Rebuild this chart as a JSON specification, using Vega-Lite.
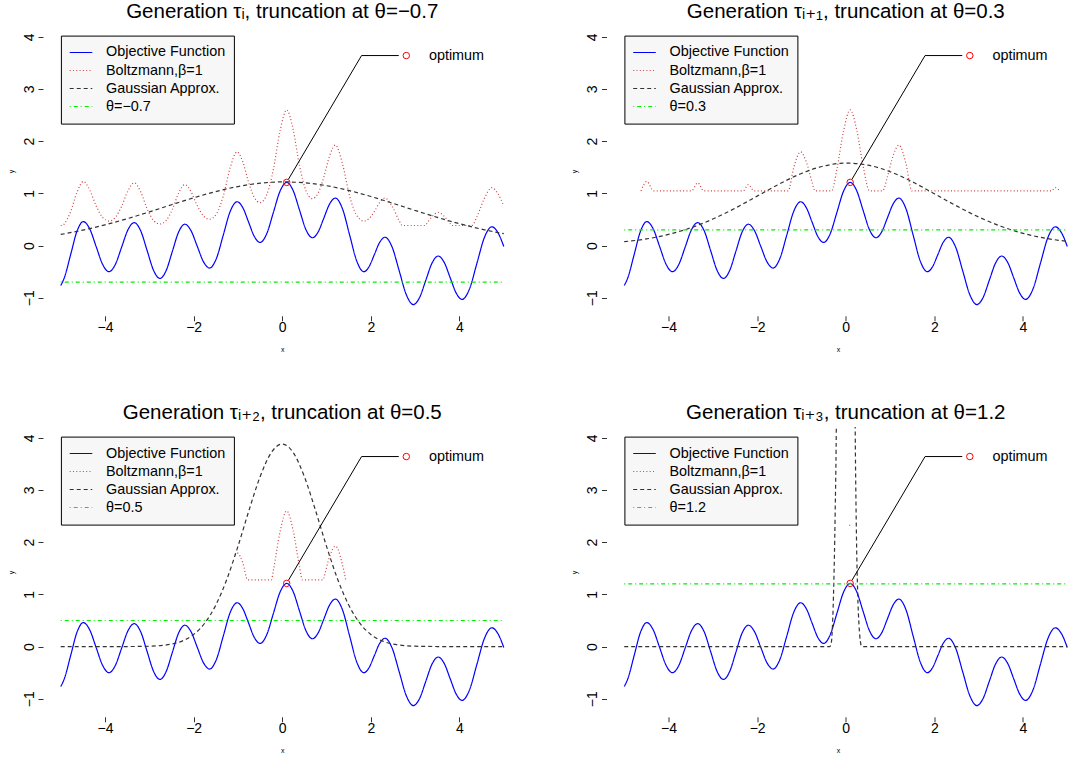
{
"$schema": "https://vega.github.io/schema/vega-lite/v6.json",
"background": "white",
"padding": {"left": 7, "top": 1, "right": 0, "bottom": 0},
"bounds": "flush",
"columns": 2,
"spacing": {"row": 111, "column": 84.5},
"resolve": {"scale": {"color": "shared", "strokeDash": "shared"}, "legend": {"color": "independent"}},
"config": {
  "font": "Liberation Sans",
  "view": {"stroke": null},
  "axis": {"grid": false, "domain": false, "ticks": true, "tickColor": "#333333", "tickWidth": 1, "tickSize": 5, "labelFont": "Liberation Sans", "labelFontSize": 14, "labelColor": "#000000", "titleFont": "Liberation Sans", "titleFontSize": 7, "titleFontWeight": "normal", "titleColor": "#000000", "labelFlush": false, "labelOverlap": false},
  "axisX": {"labelBaseline": "alphabetic", "labelPadding": 10.7, "titlePadding": 11},
  "axisY": {"labelAngle": 270, "labelAlign": "center", "labelBaseline": "alphabetic", "labelPadding": 5, "titlePadding": 8},
  "title": {"font": "Liberation Sans, DejaVu Sans, sans-serif", "fontSize": 20.5, "fontWeight": "normal", "color": "#000000", "anchor": "middle", "frame": "group", "baseline": "alphabetic", "offset": 4},
  "legend": {"padding": 8.1, "fillColor": "#F7F7F7", "strokeColor": "#000000", "symbolType": "stroke", "symbolSize": 511, "symbolStrokeWidth": 1.2, "symbolOpacity": 1, "labelFont": "Liberation Sans", "labelFontSize": 14.4, "labelColor": "#000000", "labelOffset": 13, "rowPadding": 0, "clipHeight": 17.6, "labelLimit": 400}
},
"datasets": {
  "leader": [{"x": 0.14, "y": 1.27}, {"x": 1.79, "y": 3.64}, {"x": 2.63, "y": 3.64}],
  "circles": [{"x": 0.1, "y": 1.21}, {"x": 2.8, "y": 3.64}],
  "label": [{"x": 3.31, "y": 3.64, "t": "optimum"}],
  "curves": [
    {"p":0,"s":"Objective Function","x":-5.0,"y":-0.766},{"p":0,"s":"Objective Function","x":-4.918,"y":-0.615},{"p":0,"s":"Objective Function","x":-4.775,"y":-0.17},{"p":0,"s":"Objective Function","x":-4.633,"y":0.275},{"p":0,"s":"Objective Function","x":-4.49,"y":0.46},{"p":0,"s":"Objective Function","x":-4.345,"y":0.319},{"p":0,"s":"Objective Function","x":-4.2,"y":-0.02},{"p":0,"s":"Objective Function","x":-4.055,"y":-0.359},{"p":0,"s":"Objective Function","x":-3.91,"y":-0.5},{"p":0,"s":"Objective Function","x":-3.768,"y":-0.362},{"p":0,"s":"Objective Function","x":-3.625,"y":-0.03},{"p":0,"s":"Objective Function","x":-3.483,"y":0.302},{"p":0,"s":"Objective Function","x":-3.34,"y":0.44},{"p":0,"s":"Objective Function","x":-3.195,"y":0.283},{"p":0,"s":"Objective Function","x":-3.05,"y":-0.095},{"p":0,"s":"Objective Function","x":-2.905,"y":-0.473},{"p":0,"s":"Objective Function","x":-2.76,"y":-0.63},{"p":0,"s":"Objective Function","x":-2.62,"y":-0.478},{"p":0,"s":"Objective Function","x":-2.48,"y":-0.11},{"p":0,"s":"Objective Function","x":-2.34,"y":0.258},{"p":0,"s":"Objective Function","x":-2.2,"y":0.41},{"p":0,"s":"Objective Function","x":-2.06,"y":0.287},{"p":0,"s":"Objective Function","x":-1.92,"y":-0.01},{"p":0,"s":"Objective Function","x":-1.78,"y":-0.307},{"p":0,"s":"Objective Function","x":-1.64,"y":-0.43},{"p":0,"s":"Objective Function","x":-1.485,"y":-0.244},{"p":0,"s":"Objective Function","x":-1.33,"y":0.205},{"p":0,"s":"Objective Function","x":-1.175,"y":0.654},{"p":0,"s":"Objective Function","x":-1.02,"y":0.84},{"p":0,"s":"Objective Function","x":-0.89,"y":0.726},{"p":0,"s":"Objective Function","x":-0.76,"y":0.45},{"p":0,"s":"Objective Function","x":-0.63,"y":0.174},{"p":0,"s":"Objective Function","x":-0.5,"y":0.06},{"p":0,"s":"Objective Function","x":-0.35,"y":0.228},{"p":0,"s":"Objective Function","x":-0.2,"y":0.635},{"p":0,"s":"Objective Function","x":-0.05,"y":1.042},{"p":0,"s":"Objective Function","x":0.1,"y":1.21},{"p":0,"s":"Objective Function","x":0.245,"y":1.055},{"p":0,"s":"Objective Function","x":0.39,"y":0.68},{"p":0,"s":"Objective Function","x":0.535,"y":0.305},{"p":0,"s":"Objective Function","x":0.68,"y":0.15},{"p":0,"s":"Objective Function","x":0.81,"y":0.261},{"p":0,"s":"Objective Function","x":0.94,"y":0.53},{"p":0,"s":"Objective Function","x":1.07,"y":0.799},{"p":0,"s":"Objective Function","x":1.2,"y":0.91},{"p":0,"s":"Objective Function","x":1.36,"y":0.703},{"p":0,"s":"Objective Function","x":1.52,"y":0.205},{"p":0,"s":"Objective Function","x":1.68,"y":-0.293},{"p":0,"s":"Objective Function","x":1.84,"y":-0.5},{"p":0,"s":"Objective Function","x":1.96,"y":-0.403},{"p":0,"s":"Objective Function","x":2.08,"y":-0.17},{"p":0,"s":"Objective Function","x":2.2,"y":0.063},{"p":0,"s":"Objective Function","x":2.32,"y":0.16},{"p":0,"s":"Objective Function","x":2.48,"y":-0.029},{"p":0,"s":"Objective Function","x":2.64,"y":-0.485},{"p":0,"s":"Objective Function","x":2.8,"y":-0.941},{"p":0,"s":"Objective Function","x":2.96,"y":-1.13},{"p":0,"s":"Objective Function","x":3.1,"y":-0.994},{"p":0,"s":"Objective Function","x":3.24,"y":-0.665},{"p":0,"s":"Objective Function","x":3.38,"y":-0.336},{"p":0,"s":"Objective Function","x":3.52,"y":-0.2},{"p":0,"s":"Objective Function","x":3.655,"y":-0.322},{"p":0,"s":"Objective Function","x":3.79,"y":-0.615},{"p":0,"s":"Objective Function","x":3.925,"y":-0.908},{"p":0,"s":"Objective Function","x":4.06,"y":-1.03},{"p":0,"s":"Objective Function","x":4.228,"y":-0.826},{"p":0,"s":"Objective Function","x":4.395,"y":-0.335},{"p":0,"s":"Objective Function","x":4.563,"y":0.156},{"p":0,"s":"Objective Function","x":4.73,"y":0.36},{"p":0,"s":"Objective Function","x":4.873,"y":0.24},{"p":0,"s":"Objective Function","x":5.0,"y":-0.017},

    {"p":1,"s":"Boltzmann,β=1","x":-5.0,"y":0.385},{"p":1,"s":"Boltzmann,β=1","x":-4.956,"y":0.385},{"p":1,"s":"Boltzmann,β=1","x":-4.918,"y":0.419},{"p":1,"s":"Boltzmann,β=1","x":-4.775,"y":0.654},{"p":1,"s":"Boltzmann,β=1","x":-4.633,"y":1.02},{"p":1,"s":"Boltzmann,β=1","x":-4.49,"y":1.228},{"p":1,"s":"Boltzmann,β=1","x":-4.345,"y":1.066},{"p":1,"s":"Boltzmann,β=1","x":-4.2,"y":0.76},{"p":1,"s":"Boltzmann,β=1","x":-4.055,"y":0.541},{"p":1,"s":"Boltzmann,β=1","x":-3.91,"y":0.47},{"p":1,"s":"Boltzmann,β=1","x":-3.768,"y":0.54},{"p":1,"s":"Boltzmann,β=1","x":-3.625,"y":0.752},{"p":1,"s":"Boltzmann,β=1","x":-3.483,"y":1.048},{"p":1,"s":"Boltzmann,β=1","x":-3.34,"y":1.203},{"p":1,"s":"Boltzmann,β=1","x":-3.195,"y":1.029},{"p":1,"s":"Boltzmann,β=1","x":-3.05,"y":0.705},{"p":1,"s":"Boltzmann,β=1","x":-2.905,"y":0.483},{"p":1,"s":"Boltzmann,β=1","x":-2.76,"y":0.413},{"p":1,"s":"Boltzmann,β=1","x":-2.62,"y":0.481},{"p":1,"s":"Boltzmann,β=1","x":-2.48,"y":0.694},{"p":1,"s":"Boltzmann,β=1","x":-2.34,"y":1.003},{"p":1,"s":"Boltzmann,β=1","x":-2.2,"y":1.168},{"p":1,"s":"Boltzmann,β=1","x":-2.06,"y":1.033},{"p":1,"s":"Boltzmann,β=1","x":-1.92,"y":0.767},{"p":1,"s":"Boltzmann,β=1","x":-1.78,"y":0.57},{"p":1,"s":"Boltzmann,β=1","x":-1.64,"y":0.504},{"p":1,"s":"Boltzmann,β=1","x":-1.485,"y":0.607},{"p":1,"s":"Boltzmann,β=1","x":-1.33,"y":0.951},{"p":1,"s":"Boltzmann,β=1","x":-1.175,"y":1.491},{"p":1,"s":"Boltzmann,β=1","x":-1.02,"y":1.795},{"p":1,"s":"Boltzmann,β=1","x":-0.89,"y":1.602},{"p":1,"s":"Boltzmann,β=1","x":-0.76,"y":1.215},{"p":1,"s":"Boltzmann,β=1","x":-0.63,"y":0.922},{"p":1,"s":"Boltzmann,β=1","x":-0.5,"y":0.823},{"p":1,"s":"Boltzmann,β=1","x":-0.35,"y":0.973},{"p":1,"s":"Boltzmann,β=1","x":-0.2,"y":1.463},{"p":1,"s":"Boltzmann,β=1","x":-0.05,"y":2.197},{"p":1,"s":"Boltzmann,β=1","x":0.1,"y":2.599},{"p":1,"s":"Boltzmann,β=1","x":0.245,"y":2.226},{"p":1,"s":"Boltzmann,β=1","x":0.39,"y":1.53},{"p":1,"s":"Boltzmann,β=1","x":0.535,"y":1.051},{"p":1,"s":"Boltzmann,β=1","x":0.68,"y":0.9},{"p":1,"s":"Boltzmann,β=1","x":0.81,"y":1.006},{"p":1,"s":"Boltzmann,β=1","x":0.94,"y":1.317},{"p":1,"s":"Boltzmann,β=1","x":1.07,"y":1.723},{"p":1,"s":"Boltzmann,β=1","x":1.2,"y":1.925},{"p":1,"s":"Boltzmann,β=1","x":1.36,"y":1.565},{"p":1,"s":"Boltzmann,β=1","x":1.52,"y":0.951},{"p":1,"s":"Boltzmann,β=1","x":1.68,"y":0.578},{"p":1,"s":"Boltzmann,β=1","x":1.84,"y":0.47},{"p":1,"s":"Boltzmann,β=1","x":1.96,"y":0.518},{"p":1,"s":"Boltzmann,β=1","x":2.08,"y":0.654},{"p":1,"s":"Boltzmann,β=1","x":2.2,"y":0.825},{"p":1,"s":"Boltzmann,β=1","x":2.32,"y":0.909},{"p":1,"s":"Boltzmann,β=1","x":2.48,"y":0.753},{"p":1,"s":"Boltzmann,β=1","x":2.64,"y":0.477},{"p":1,"s":"Boltzmann,β=1","x":2.709,"y":0.385},{"p":1,"s":"Boltzmann,β=1","x":3.226,"y":0.385},{"p":1,"s":"Boltzmann,β=1","x":3.24,"y":0.399},{"p":1,"s":"Boltzmann,β=1","x":3.38,"y":0.554},{"p":1,"s":"Boltzmann,β=1","x":3.52,"y":0.635},{"p":1,"s":"Boltzmann,β=1","x":3.655,"y":0.562},{"p":1,"s":"Boltzmann,β=1","x":3.79,"y":0.419},{"p":1,"s":"Boltzmann,β=1","x":3.826,"y":0.385},{"p":1,"s":"Boltzmann,β=1","x":4.277,"y":0.385},{"p":1,"s":"Boltzmann,β=1","x":4.395,"y":0.554},{"p":1,"s":"Boltzmann,β=1","x":4.563,"y":0.906},{"p":1,"s":"Boltzmann,β=1","x":4.73,"y":1.111},{"p":1,"s":"Boltzmann,β=1","x":4.873,"y":0.985},{"p":1,"s":"Boltzmann,β=1","x":5.0,"y":0.762},

    {"p":1,"s":"Gaussian Approx.","x":-5,"y":0.213},{"p":1,"s":"Gaussian Approx.","x":-4.5,"y":0.296},{"p":1,"s":"Gaussian Approx.","x":-4,"y":0.397},{"p":1,"s":"Gaussian Approx.","x":-3.5,"y":0.515},{"p":1,"s":"Gaussian Approx.","x":-3,"y":0.645},{"p":1,"s":"Gaussian Approx.","x":-2.5,"y":0.782},{"p":1,"s":"Gaussian Approx.","x":-2,"y":0.915},{"p":1,"s":"Gaussian Approx.","x":-1.5,"y":1.035},{"p":1,"s":"Gaussian Approx.","x":-1,"y":1.131},{"p":1,"s":"Gaussian Approx.","x":-0.5,"y":1.195},{"p":1,"s":"Gaussian Approx.","x":0,"y":1.22},{"p":1,"s":"Gaussian Approx.","x":0.5,"y":1.203},{"p":1,"s":"Gaussian Approx.","x":1,"y":1.147},{"p":1,"s":"Gaussian Approx.","x":1.5,"y":1.056},{"p":1,"s":"Gaussian Approx.","x":2,"y":0.94},{"p":1,"s":"Gaussian Approx.","x":2.5,"y":0.809},{"p":1,"s":"Gaussian Approx.","x":3,"y":0.672},{"p":1,"s":"Gaussian Approx.","x":3.5,"y":0.54},{"p":1,"s":"Gaussian Approx.","x":4,"y":0.419},{"p":1,"s":"Gaussian Approx.","x":4.5,"y":0.314},{"p":1,"s":"Gaussian Approx.","x":5,"y":0.228},
    {"p":1,"s":"θ","x":-5,"y":-0.7},{"p":1,"s":"θ","x":5,"y":-0.7},

    {"p":2,"s":"Boltzmann,β=1","x":-4.622,"y":1.046},{"p":2,"s":"Boltzmann,β=1","x":-4.49,"y":1.228},{"p":2,"s":"Boltzmann,β=1","x":-4.335,"y":1.046},{"p":2,"s":"Boltzmann,β=1","x":-3.484,"y":1.046},{"p":2,"s":"Boltzmann,β=1","x":-3.34,"y":1.203},{"p":2,"s":"Boltzmann,β=1","x":-3.203,"y":1.046},{"p":2,"s":"Boltzmann,β=1","x":-2.318,"y":1.046},{"p":2,"s":"Boltzmann,β=1","x":-2.2,"y":1.168},{"p":2,"s":"Boltzmann,β=1","x":-2.068,"y":1.046},{"p":2,"s":"Boltzmann,β=1","x":-1.3,"y":1.046},{"p":2,"s":"Boltzmann,β=1","x":-1.175,"y":1.491},{"p":2,"s":"Boltzmann,β=1","x":-1.02,"y":1.795},{"p":2,"s":"Boltzmann,β=1","x":-0.89,"y":1.602},{"p":2,"s":"Boltzmann,β=1","x":-0.76,"y":1.215},{"p":2,"s":"Boltzmann,β=1","x":-0.694,"y":1.046},{"p":2,"s":"Boltzmann,β=1","x":-0.319,"y":1.046},{"p":2,"s":"Boltzmann,β=1","x":-0.2,"y":1.463},{"p":2,"s":"Boltzmann,β=1","x":-0.05,"y":2.197},{"p":2,"s":"Boltzmann,β=1","x":0.1,"y":2.599},{"p":2,"s":"Boltzmann,β=1","x":0.245,"y":2.226},{"p":2,"s":"Boltzmann,β=1","x":0.39,"y":1.53},{"p":2,"s":"Boltzmann,β=1","x":0.538,"y":1.046},{"p":2,"s":"Boltzmann,β=1","x":0.832,"y":1.046},{"p":2,"s":"Boltzmann,β=1","x":0.94,"y":1.317},{"p":2,"s":"Boltzmann,β=1","x":1.07,"y":1.723},{"p":2,"s":"Boltzmann,β=1","x":1.2,"y":1.925},{"p":2,"s":"Boltzmann,β=1","x":1.36,"y":1.565},{"p":2,"s":"Boltzmann,β=1","x":1.493,"y":1.046},{"p":2,"s":"Boltzmann,β=1","x":4.641,"y":1.046},{"p":2,"s":"Boltzmann,β=1","x":4.73,"y":1.111},{"p":2,"s":"Boltzmann,β=1","x":4.829,"y":1.046},
    {"p":2,"s":"Gaussian Approx.","x":-5,"y":0.075},{"p":2,"s":"Gaussian Approx.","x":-4.5,"y":0.127},{"p":2,"s":"Gaussian Approx.","x":-4,"y":0.214},{"p":2,"s":"Gaussian Approx.","x":-3.5,"y":0.34},{"p":2,"s":"Gaussian Approx.","x":-3,"y":0.508},{"p":2,"s":"Gaussian Approx.","x":-2.5,"y":0.715},{"p":2,"s":"Gaussian Approx.","x":-2,"y":0.947},{"p":2,"s":"Gaussian Approx.","x":-1.5,"y":1.179},{"p":2,"s":"Gaussian Approx.","x":-1,"y":1.382},{"p":2,"s":"Gaussian Approx.","x":-0.5,"y":1.523},{"p":2,"s":"Gaussian Approx.","x":0,"y":1.58},{"p":2,"s":"Gaussian Approx.","x":0.5,"y":1.541},{"p":2,"s":"Gaussian Approx.","x":1,"y":1.415},{"p":2,"s":"Gaussian Approx.","x":1.5,"y":1.223},{"p":2,"s":"Gaussian Approx.","x":2,"y":0.993},{"p":2,"s":"Gaussian Approx.","x":2.5,"y":0.76},{"p":2,"s":"Gaussian Approx.","x":3,"y":0.547},{"p":2,"s":"Gaussian Approx.","x":3.5,"y":0.37},{"p":2,"s":"Gaussian Approx.","x":4,"y":0.235},{"p":2,"s":"Gaussian Approx.","x":4.5,"y":0.141},{"p":2,"s":"Gaussian Approx.","x":5,"y":0.08},
    {"p":2,"s":"θ","x":-5,"y":0.3},{"p":2,"s":"θ","x":5,"y":0.3},

    {"p":3,"s":"Boltzmann,β=1","x":-1.07,"y":1.76},{"p":3,"s":"Boltzmann,β=1","x":-1.02,"y":1.795},{"p":3,"s":"Boltzmann,β=1","x":-0.89,"y":1.602},{"p":3,"s":"Boltzmann,β=1","x":-0.781,"y":1.278},{"p":3,"s":"Boltzmann,β=1","x":-0.245,"y":1.278},{"p":3,"s":"Boltzmann,β=1","x":-0.2,"y":1.463},{"p":3,"s":"Boltzmann,β=1","x":-0.05,"y":2.197},{"p":3,"s":"Boltzmann,β=1","x":0.1,"y":2.599},{"p":3,"s":"Boltzmann,β=1","x":0.245,"y":2.226},{"p":3,"s":"Boltzmann,β=1","x":0.39,"y":1.53},{"p":3,"s":"Boltzmann,β=1","x":0.454,"y":1.278},{"p":3,"s":"Boltzmann,β=1","x":0.927,"y":1.278},{"p":3,"s":"Boltzmann,β=1","x":0.94,"y":1.317},{"p":3,"s":"Boltzmann,β=1","x":1.07,"y":1.723},{"p":3,"s":"Boltzmann,β=1","x":1.2,"y":1.925},{"p":3,"s":"Boltzmann,β=1","x":1.36,"y":1.565},{"p":3,"s":"Boltzmann,β=1","x":1.432,"y":1.278},
    {"p":3,"s":"Gaussian Approx.","x":-5,"y":0},{"p":3,"s":"Gaussian Approx.","x":-3.5,"y":0.001},{"p":3,"s":"Gaussian Approx.","x":-3,"y":0.007},{"p":3,"s":"Gaussian Approx.","x":-2.75,"y":0.019},{"p":3,"s":"Gaussian Approx.","x":-2.5,"y":0.048},{"p":3,"s":"Gaussian Approx.","x":-2.25,"y":0.11},{"p":3,"s":"Gaussian Approx.","x":-2,"y":0.232},{"p":3,"s":"Gaussian Approx.","x":-1.75,"y":0.449},{"p":3,"s":"Gaussian Approx.","x":-1.5,"y":0.795},{"p":3,"s":"Gaussian Approx.","x":-1.25,"y":1.291},{"p":3,"s":"Gaussian Approx.","x":-1,"y":1.919},{"p":3,"s":"Gaussian Approx.","x":-0.75,"y":2.611},{"p":3,"s":"Gaussian Approx.","x":-0.5,"y":3.254},{"p":3,"s":"Gaussian Approx.","x":-0.25,"y":3.713},{"p":3,"s":"Gaussian Approx.","x":0,"y":3.88},{"p":3,"s":"Gaussian Approx.","x":0.25,"y":3.713},{"p":3,"s":"Gaussian Approx.","x":0.5,"y":3.254},{"p":3,"s":"Gaussian Approx.","x":0.75,"y":2.611},{"p":3,"s":"Gaussian Approx.","x":1,"y":1.919},{"p":3,"s":"Gaussian Approx.","x":1.25,"y":1.291},{"p":3,"s":"Gaussian Approx.","x":1.5,"y":0.795},{"p":3,"s":"Gaussian Approx.","x":1.75,"y":0.449},{"p":3,"s":"Gaussian Approx.","x":2,"y":0.232},{"p":3,"s":"Gaussian Approx.","x":2.25,"y":0.11},{"p":3,"s":"Gaussian Approx.","x":2.5,"y":0.048},{"p":3,"s":"Gaussian Approx.","x":2.75,"y":0.019},{"p":3,"s":"Gaussian Approx.","x":3,"y":0.007},{"p":3,"s":"Gaussian Approx.","x":3.5,"y":0.001},{"p":3,"s":"Gaussian Approx.","x":5,"y":0},
    {"p":3,"s":"θ","x":-5,"y":0.5},{"p":3,"s":"θ","x":5,"y":0.5},

    {"p":4,"s":"Boltzmann,β=1","x":0.08,"y":2.32},{"p":4,"s":"Boltzmann,β=1","x":0.1,"y":2.32},
    {"p":4,"s":"Gaussian Approx.","x":-5,"y":0},{"p":4,"s":"Gaussian Approx.","x":-0.36,"y":0},{"p":4,"s":"Gaussian Approx.","x":-0.33,"y":0.05},{"p":4,"s":"Gaussian Approx.","x":-0.3,"y":0.4},{"p":4,"s":"Gaussian Approx.","x":-0.27,"y":1.2},{"p":4,"s":"Gaussian Approx.","x":-0.24,"y":2.5},{"p":4,"s":"Gaussian Approx.","x":-0.21,"y":4.5},{"p":4,"s":"Gaussian Approx.","x":-0.18,"y":9},{"p":4,"s":"Gaussian Approx.","x":-0.1,"y":40},{"p":4,"s":"Gaussian Approx.","x":0,"y":80},{"p":4,"s":"Gaussian Approx.","x":0.1,"y":40},{"p":4,"s":"Gaussian Approx.","x":0.18,"y":9},{"p":4,"s":"Gaussian Approx.","x":0.21,"y":4.5},{"p":4,"s":"Gaussian Approx.","x":0.24,"y":2.2},{"p":4,"s":"Gaussian Approx.","x":0.27,"y":1.0},{"p":4,"s":"Gaussian Approx.","x":0.3,"y":0.4},{"p":4,"s":"Gaussian Approx.","x":0.33,"y":0.1},{"p":4,"s":"Gaussian Approx.","x":0.36,"y":0},{"p":4,"s":"Gaussian Approx.","x":5,"y":0},
    {"p":4,"s":"θ","x":-5,"y":1.2},{"p":4,"s":"θ","x":5,"y":1.2}
  ]
},
"concat": [
  {
    "width": 478.5, "height": 289.8,
    "title": {"text": "Generation τᵢ, truncation at θ=−0.7"},
    "encoding": {
      "x": {"field": "x", "type": "quantitative", "scale": {"domain": [-5.4, 5.4], "nice": false, "zero": false}, "axis": {"values": [-4, -2, 0, 2, 4], "title": "x"}},
      "y": {"field": "y", "type": "quantitative", "scale": {"domain": [-1.345, 4.206], "nice": false, "zero": false}, "axis": {"values": [-1, 0, 1, 2, 3, 4], "title": "y"}}
    },
    "layer": [
      {"data": {"name": "curves"}, "transform": [{"filter": "datum.p == 0 || datum.p == 1"}],
       "mark": {"type": "line", "clip": true, "interpolate": "monotone", "strokeWidth": 1.2},
       "encoding": {
         "color": {"field": "s", "type": "nominal", "scale": {"domain": ["Objective Function", "Boltzmann,β=1", "Gaussian Approx.", "θ"], "range": ["#0000FF", "#D04040", "#333333", "#00EE00"]},
           "legend": {"title": null, "orient": "none", "legendX": 17.9, "legendY": 9.6, "zindex": 2, "labelExpr": "datum.label === 'θ' ? 'θ=−0.7' : datum.label",
             "encode": {"symbols": {"update": {"stroke": {"signal": "datum.value === 'Objective Function' ? '#0000FF' : datum.value === 'Gaussian Approx.' ? '#333333' : datum.value === 'θ' ? '#00EE00' : '#D04040'"}, "strokeDash": {"signal": "datum.value === 'Objective Function' ? [1, 0] : datum.value === 'Gaussian Approx.' ? [4, 3] : datum.value === 'θ' ? [1, 3, 4, 3] : [1, 2.3]"}, "opacity": {"value": 1}}}}}},
         "strokeDash": {"field": "s", "type": "nominal", "scale": {"domain": ["Objective Function", "Boltzmann,β=1", "Gaussian Approx.", "θ"], "range": [[1, 0], [1, 2.3], [4, 3], [1, 3, 4, 3]]}, "legend": null}
       }},
      {"data": {"name": "leader"}, "mark": {"type": "line", "stroke": "#000000", "strokeWidth": 1}, "encoding": {}},
      {"data": {"name": "circles"}, "mark": {"type": "point", "shape": "circle", "filled": false, "stroke": "#FF0000", "size": 42, "strokeWidth": 1, "opacity": 1}, "encoding": {}},
      {"data": {"name": "label"}, "mark": {"type": "text", "align": "left", "baseline": "middle", "fontSize": 14.4, "fill": "#000000"}, "encoding": {"text": {"field": "t"}}},
      {"data": {"values": [{}]}, "mark": {"type": "rule", "stroke": "#333333", "strokeWidth": 1}, "encoding": {"x": {"datum": -4}, "x2": {"datum": 4}, "y": {"datum": -1.345}}},
      {"data": {"values": [{}]}, "mark": {"type": "rule", "stroke": "#333333", "strokeWidth": 1}, "encoding": {"y": {"datum": -1}, "y2": {"datum": 4}, "x": {"datum": -5.4}}}
    ]
  },
  {
    "width": 463, "height": 289.8,
    "title": {"text": "Generation τᵢ₊₁, truncation at θ=0.3", "dx": 7.8},
    "encoding": {
      "x": {"field": "x", "type": "quantitative", "scale": {"domain": [-5.4, 5.05], "nice": false, "zero": false}, "axis": {"values": [-4, -2, 0, 2, 4], "title": "x"}},
      "y": {"field": "y", "type": "quantitative", "scale": {"domain": [-1.345, 4.206], "nice": false, "zero": false}, "axis": {"values": [-1, 0, 1, 2, 3, 4], "title": "y"}}
    },
    "layer": [
      {"data": {"name": "curves"}, "transform": [{"filter": "datum.p == 0 || datum.p == 2"}],
       "mark": {"type": "line", "clip": true, "interpolate": "monotone", "strokeWidth": 1.2},
       "encoding": {
         "color": {"field": "s", "type": "nominal",
           "legend": {"title": null, "orient": "none", "legendX": 17.9, "legendY": 9.6, "zindex": 2, "labelExpr": "datum.label === 'θ' ? 'θ=0.3' : datum.label",
             "encode": {"symbols": {"update": {"stroke": {"signal": "datum.value === 'Objective Function' ? '#0000FF' : datum.value === 'Gaussian Approx.' ? '#333333' : datum.value === 'θ' ? '#00EE00' : '#D04040'"}, "strokeDash": {"signal": "datum.value === 'Objective Function' ? [1, 0] : datum.value === 'Gaussian Approx.' ? [4, 3] : datum.value === 'θ' ? [1, 3, 4, 3] : [1, 2.3]"}, "opacity": {"value": 1}}}}}},
         "strokeDash": {"field": "s", "type": "nominal", "legend": null}
       }},
      {"data": {"name": "leader"}, "mark": {"type": "line", "stroke": "#000000", "strokeWidth": 1}, "encoding": {}},
      {"data": {"name": "circles"}, "mark": {"type": "point", "shape": "circle", "filled": false, "stroke": "#FF0000", "size": 42, "strokeWidth": 1, "opacity": 1}, "encoding": {}},
      {"data": {"name": "label"}, "mark": {"type": "text", "align": "left", "baseline": "middle", "fontSize": 14.4, "fill": "#000000"}, "encoding": {"text": {"field": "t"}}},
      {"data": {"values": [{}]}, "mark": {"type": "rule", "stroke": "#333333", "strokeWidth": 1}, "encoding": {"x": {"datum": -4}, "x2": {"datum": 4}, "y": {"datum": -1.345}}},
      {"data": {"values": [{}]}, "mark": {"type": "rule", "stroke": "#333333", "strokeWidth": 1}, "encoding": {"y": {"datum": -1}, "y2": {"datum": 4}, "x": {"datum": -5.4}}}
    ]
  },
  {
    "width": 478.5, "height": 289.8,
    "title": {"text": "Generation τᵢ₊₂, truncation at θ=0.5"},
    "encoding": {
      "x": {"field": "x", "type": "quantitative", "scale": {"domain": [-5.4, 5.4], "nice": false, "zero": false}, "axis": {"values": [-4, -2, 0, 2, 4], "title": "x"}},
      "y": {"field": "y", "type": "quantitative", "scale": {"domain": [-1.345, 4.206], "nice": false, "zero": false}, "axis": {"values": [-1, 0, 1, 2, 3, 4], "title": "y"}}
    },
    "layer": [
      {"data": {"name": "curves"}, "transform": [{"filter": "datum.p == 0 || datum.p == 3"}],
       "mark": {"type": "line", "clip": true, "interpolate": "monotone", "strokeWidth": 1.2},
       "encoding": {
         "color": {"field": "s", "type": "nominal",
           "legend": {"title": null, "orient": "none", "legendX": 17.9, "legendY": 9.6, "zindex": 2, "labelExpr": "datum.label === 'θ' ? 'θ=0.5' : datum.label",
             "encode": {"symbols": {"update": {"stroke": {"signal": "datum.value === 'Objective Function' ? '#0000FF' : datum.value === 'Gaussian Approx.' ? '#333333' : datum.value === 'θ' ? '#00EE00' : '#D04040'"}, "strokeDash": {"signal": "datum.value === 'Objective Function' ? [1, 0] : datum.value === 'Gaussian Approx.' ? [4, 3] : datum.value === 'θ' ? [1, 3, 4, 3] : [1, 2.3]"}, "opacity": {"value": 1}}}}}},
         "strokeDash": {"field": "s", "type": "nominal", "legend": null}
       }},
      {"data": {"name": "leader"}, "mark": {"type": "line", "stroke": "#000000", "strokeWidth": 1}, "encoding": {}},
      {"data": {"name": "circles"}, "mark": {"type": "point", "shape": "circle", "filled": false, "stroke": "#FF0000", "size": 42, "strokeWidth": 1, "opacity": 1}, "encoding": {}},
      {"data": {"name": "label"}, "mark": {"type": "text", "align": "left", "baseline": "middle", "fontSize": 14.4, "fill": "#000000"}, "encoding": {"text": {"field": "t"}}},
      {"data": {"values": [{}]}, "mark": {"type": "rule", "stroke": "#333333", "strokeWidth": 1}, "encoding": {"x": {"datum": -4}, "x2": {"datum": 4}, "y": {"datum": -1.345}}},
      {"data": {"values": [{}]}, "mark": {"type": "rule", "stroke": "#333333", "strokeWidth": 1}, "encoding": {"y": {"datum": -1}, "y2": {"datum": 4}, "x": {"datum": -5.4}}}
    ]
  },
  {
    "width": 463, "height": 289.8,
    "title": {"text": "Generation τᵢ₊₃, truncation at θ=1.2", "dx": 7.8},
    "encoding": {
      "x": {"field": "x", "type": "quantitative", "scale": {"domain": [-5.4, 5.05], "nice": false, "zero": false}, "axis": {"values": [-4, -2, 0, 2, 4], "title": "x"}},
      "y": {"field": "y", "type": "quantitative", "scale": {"domain": [-1.345, 4.206], "nice": false, "zero": false}, "axis": {"values": [-1, 0, 1, 2, 3, 4], "title": "y"}}
    },
    "layer": [
      {"data": {"name": "curves"}, "transform": [{"filter": "datum.p == 0 || datum.p == 4"}],
       "mark": {"type": "line", "clip": true, "interpolate": "monotone", "strokeWidth": 1.2},
       "encoding": {
         "color": {"field": "s", "type": "nominal",
           "legend": {"title": null, "orient": "none", "legendX": 17.9, "legendY": 9.6, "zindex": 2, "labelExpr": "datum.label === 'θ' ? 'θ=1.2' : datum.label",
             "encode": {"symbols": {"update": {"stroke": {"signal": "datum.value === 'Objective Function' ? '#0000FF' : datum.value === 'Gaussian Approx.' ? '#333333' : datum.value === 'θ' ? '#00EE00' : '#D04040'"}, "strokeDash": {"signal": "datum.value === 'Objective Function' ? [1, 0] : datum.value === 'Gaussian Approx.' ? [4, 3] : datum.value === 'θ' ? [1, 3, 4, 3] : [1, 2.3]"}, "opacity": {"value": 1}}}}}},
         "strokeDash": {"field": "s", "type": "nominal", "legend": null}
       }},
      {"data": {"name": "leader"}, "mark": {"type": "line", "stroke": "#000000", "strokeWidth": 1}, "encoding": {}},
      {"data": {"name": "circles"}, "mark": {"type": "point", "shape": "circle", "filled": false, "stroke": "#FF0000", "size": 42, "strokeWidth": 1, "opacity": 1}, "encoding": {}},
      {"data": {"name": "label"}, "mark": {"type": "text", "align": "left", "baseline": "middle", "fontSize": 14.4, "fill": "#000000"}, "encoding": {"text": {"field": "t"}}},
      {"data": {"values": [{}]}, "mark": {"type": "rule", "stroke": "#333333", "strokeWidth": 1}, "encoding": {"x": {"datum": -4}, "x2": {"datum": 4}, "y": {"datum": -1.345}}},
      {"data": {"values": [{}]}, "mark": {"type": "rule", "stroke": "#333333", "strokeWidth": 1}, "encoding": {"y": {"datum": -1}, "y2": {"datum": 4}, "x": {"datum": -5.4}}}
    ]
  }
]
}
